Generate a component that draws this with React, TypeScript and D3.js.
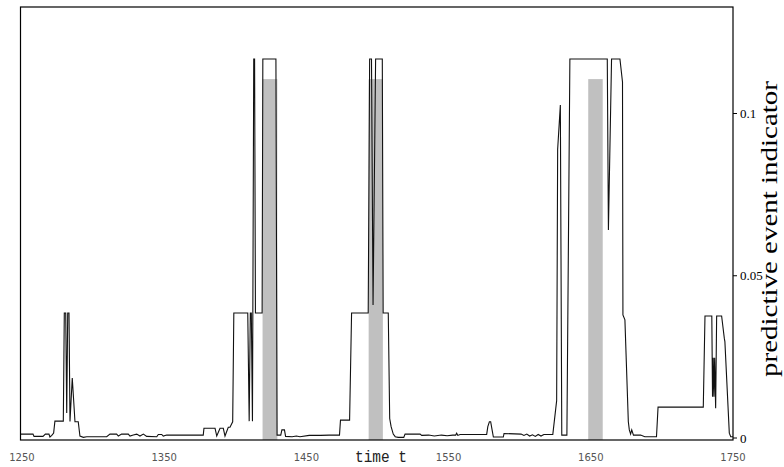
import React from 'react';
import * as d3 from 'd3';

// [time, indicator]
const indicatorSeries: [number, number][] = [
  [1249, 0.0012], [1257.8, 0.0012], [1258.5, 0.0005], [1264.8, 0.0005], [1266.5, 0.0012],
  [1269, 0.0012], [1269.7, 0.0003], [1271, 0.0008], [1272.3, 0.0015], [1273.2, 0.0052],
  [1279.1, 0.0052], [1279.8, 0.0385], [1280.8, 0.0385], [1281.5, 0.0077], [1282.2, 0.0385],
  [1283.1, 0.0385], [1283.8, 0.0051], [1285.4, 0.0185], [1287.3, 0.005], [1289.6, 0.005],
  [1290.8, 0.0006], [1293.2, 0.0002], [1295.6, 0.0004], [1309.6, 0.0004], [1311.9, 0.0012],
  [1316.6, 0.0012], [1317.8, 0.0006], [1320.1, 0.0012], [1324.8, 0.0012], [1326, 0.0006],
  [1328.3, 0.0009], [1330.7, 0.0012], [1333, 0.0006], [1335.4, 0.0012], [1337.7, 0.0005],
  [1344.8, 0.0004], [1345.9, 0.0011], [1348.3, 0.0011], [1349.4, 0.0006], [1351.8, 0.0009],
  [1377.5, 0.0009], [1378, 0.003], [1385.8, 0.003], [1387, 0.0006], [1389.3, 0.003],
  [1391.6, 0.003], [1392.8, 0.0006], [1395.1, 0.0033], [1396.3, 0.0033], [1398.2, 0.005],
  [1399, 0.0385], [1408.8, 0.0385], [1409.8, 0.0052], [1410.6, 0.0385], [1411.3, 0.0385],
  [1412.1, 0.0052], [1413, 0.1168], [1413.6, 0.1168], [1414.2, 0.0385], [1418.9, 0.0385],
  [1419.4, 0.1168], [1428.6, 0.1168], [1429.4, 0.0009], [1432, 0.0009], [1432.8, 0.0025],
  [1434.6, 0.0025], [1435.4, 0.0005], [1440, 0.0004], [1443, 0.0006], [1445.5, 0.0004],
  [1452, 0.0008], [1460, 0.0008], [1466, 0.0009], [1473.3, 0.0009], [1474, 0.0055],
  [1480.4, 0.0055], [1481.8, 0.0385], [1493.5, 0.0385], [1494.5, 0.1168], [1495.8, 0.1168],
  [1496.9, 0.041], [1498.7, 0.1168], [1503.4, 0.1168], [1504, 0.0385], [1507.6, 0.0385],
  [1508.6, 0.006], [1509.6, 0.0035], [1511.1, 0.0012], [1512.5, 0.0004], [1514.6, 0.0002],
  [1518.5, 0.0002], [1519.4, 0.0012], [1530, 0.0012], [1531.1, 0.0008], [1536, 0.0009],
  [1540, 0.0006], [1545, 0.0009], [1549, 0.0007], [1553, 0.0009], [1555, 0.0009],
  [1555.7, 0.0015], [1556.5, 0.0008], [1558.1, 0.0011], [1576.8, 0.0011], [1577.6, 0.0035],
  [1578.7, 0.005], [1579.6, 0.005], [1580.6, 0.0025], [1581.5, 0.0003], [1588.5, 0.0003],
  [1589, 0.0014], [1601, 0.0012], [1603, 0.0008], [1605, 0.0012], [1607, 0.0006],
  [1609, 0.001], [1611, 0.0005], [1613, 0.0011], [1615, 0.0006], [1617, 0.0011],
  [1623.3, 0.0011], [1626, 0.0115], [1626.7, 0.089], [1628.6, 0.1026], [1629.6, 0.0009],
  [1633.2, 0.0009], [1635.3, 0.1168], [1661.6, 0.1168], [1662.4, 0.0641], [1664.6, 0.1168],
  [1670.5, 0.1168], [1672.3, 0.1097], [1672.6, 0.0379], [1674, 0.0364], [1676.4, 0.005],
  [1677.1, 0.0025], [1678, 0.0012], [1678.8, 0.0025], [1680, 0.0009], [1685, 0.0009],
  [1688, 0.0004], [1696.2, 0.0004], [1697.3, 0.0095], [1729.1, 0.0095], [1730.3, 0.0376],
  [1735.1, 0.0376], [1735.6, 0.0127], [1736.1, 0.0247], [1736.6, 0.0127], [1737.1, 0.0247],
  [1737.8, 0.0092], [1738.5, 0.0376], [1742, 0.0376], [1743.9, 0.0307], [1744.3, 0.0297],
  [1747.4, 0.0015], [1748.4, 0.0004], [1750, 0.0004],
];

// shaded event windows [start, end]
const eventWindows: [number, number][] = [
  [1419.2, 1429.6],
  [1493.8, 1503.8],
  [1648.2, 1658.4],
];
const eventLevel = 0.1106;

const xTicks = [1250, 1350, 1450, 1550, 1650, 1750];
const yTicks = [0, 0.05, 0.1];
const yTickLabels = ['0', '0.05', '0.1'];

const W = 784;
const H = 467;
const left = 20.5, right = 733, top = 7, bottom = 440;

export default function App() {
  const x = d3.scaleLinear().domain([1249, 1750]).range([left, right]);
  const y = d3.scaleLinear().domain([0, 0.1]).range([438, 113.5]);

  const line = d3.line<[number, number]>()
    .x(d => x(d[0]))
    .y(d => y(d[1]));

  return (
    <div style={{ position: 'fixed', left: 0, top: 0 }}>
      <svg width={W} height={H} style={{ display: 'block', background: '#fff' }}>
        {/* event windows */}
        {eventWindows.map((w, i) => (
          <rect key={i}
            x={x(w[0])} y={y(eventLevel)}
            width={x(w[1]) - x(w[0])} height={bottom - y(eventLevel)}
            fill="#c0c0c0" />
        ))}

        <path d={line(indicatorSeries) || ''} fill="none" stroke="#111" strokeWidth={1.1} />

        {/* frame */}
        <rect x={left} y={top} width={right - left} height={bottom - top}
          fill="none" stroke="#000" strokeWidth={1.2} />

        {/* x tick labels */}
        {xTicks.map(t => (
          <text key={t} x={x(t)} y={461} textAnchor="middle"
            fontFamily="DejaVu Sans" fontSize={10} fill="#555">{t}</text>
        ))}
        <text x={355} y={462} fontFamily="Liberation Mono" fontSize={17}
          textLength={52} lengthAdjust="spacingAndGlyphs" fill="#222">time t</text>

        {/* right axis */}
        {yTicks.map((t, i) => (
          <g key={t}>
            <line x1={right} x2={right + 4} y1={y(t)} y2={y(t)} stroke="#000" />
            <text x={right + 7} y={y(t) + 4.5} fontFamily="Liberation Serif"
              fontSize={13} fill="#000">{yTickLabels[i]}</text>
          </g>
        ))}
        <text transform={`translate(777,229) rotate(-90)`} textAnchor="middle"
          fontFamily="Liberation Serif" fontSize={24} textLength={296}
          lengthAdjust="spacingAndGlyphs" fill="#000">
          predictive event indicator
        </text>
      </svg>
    </div>
  );
}
